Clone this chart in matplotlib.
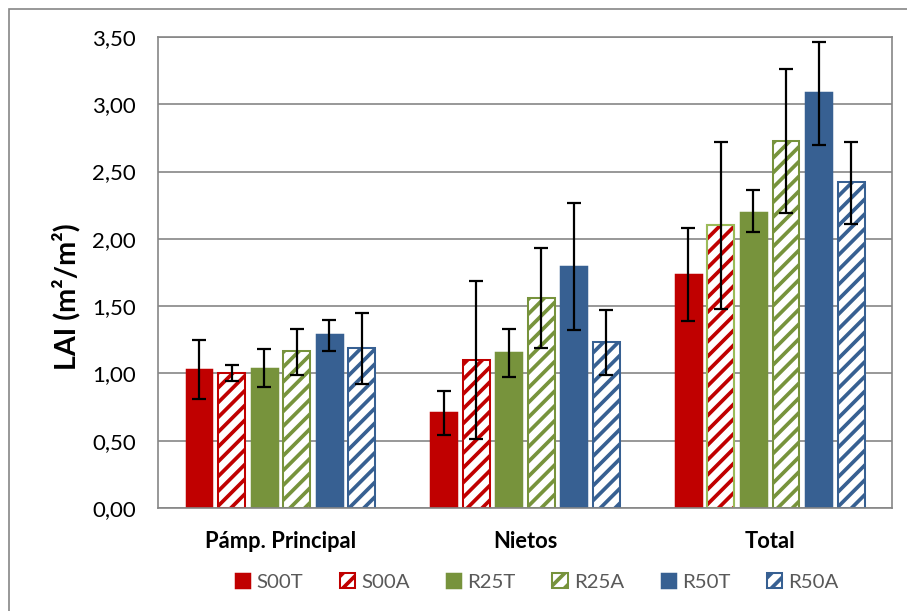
import numpy as np
import matplotlib
matplotlib.use("Agg")
import matplotlib.pyplot as plt
from matplotlib.patches import Rectangle

plt.rcParams['font.family'] = ['Lato', 'DejaVu Sans']
plt.rcParams['hatch.linewidth'] = 2.0

DPI = 400 / 3.0

categories = ['Pámp. Principal', 'Nietos', 'Total']
series = ['S00T', 'S00A', 'R25T', 'R25A', 'R50T', 'R50A']

# bar heights per series (one value per category)
s00t = [1.03, 0.71, 1.74]
s00a = [1.00, 1.10, 2.10]
r25t = [1.04, 1.16, 2.20]
r25a = [1.17, 1.56, 2.73]
r50t = [1.29, 1.80, 3.09]
r50a = [1.19, 1.23, 2.42]

# error bar upper / lower ends
s00t_hi = [1.25, 0.87, 2.08]
s00t_lo = [0.81, 0.54, 1.39]
s00a_hi = [1.065, 1.69, 2.72]
s00a_lo = [0.94, 0.51, 1.48]
r25t_hi = [1.18, 1.33, 2.36]
r25t_lo = [0.90, 0.97, 2.05]
r25a_hi = [1.33, 1.93, 3.26]
r25a_lo = [0.99, 1.19, 2.19]
r50t_hi = [1.40, 2.27, 3.46]
r50t_lo = [1.17, 1.32, 2.70]
r50a_hi = [1.45, 1.47, 2.72]
r50a_lo = [0.92, 0.99, 2.11]

values = [s00t, s00a, r25t, r25a, r50t, r50a]
highs = [s00t_hi, s00a_hi, r25t_hi, r25a_hi, r50t_hi, r50a_hi]
lows = [s00t_lo, s00a_lo, r25t_lo, r25a_lo, r50t_lo, r50a_lo]

red = '#C00000'
green = '#77933C'
blue = '#376092'
colors = [red, red, green, green, blue, blue]
hatched = [False, True, False, True, False, True]

fig = plt.figure(figsize=(907 / DPI, 611 / DPI), dpi=DPI)
ax = fig.add_axes([0.1742, 0.1686, 0.8093, 0.7708])

x = np.arange(len(categories))
slot = 0.133
width = 0.11
grid_c = '#868686'

for i, (name, vals) in enumerate(zip(series, values)):
    pos = x + (i - 2.5) * slot
    v = np.array(vals)
    yerr = [v - np.array(lows[i]), np.array(highs[i]) - v]
    if hatched[i]:
        ax.bar(pos, v, width, color='white', edgecolor=colors[i],
               hatch='///', linewidth=1.1, label=name, zorder=2)
    else:
        ax.bar(pos, v, width, color=colors[i], edgecolor=colors[i],
               linewidth=0.8, label=name, zorder=2)
    # the Total S00A bar has an olive outline in the original
    if name == 'S00A':
        ax.bar(pos[2], v[2], width, fill=False, edgecolor='#9BBB59',
               linewidth=1.1, zorder=2.5)
    ax.errorbar(pos, v, yerr=yerr, fmt='none', ecolor='black',
                elinewidth=1.2, capsize=3.8, capthick=1.2, zorder=3)

ax.set_ylim(0, 3.5)
ax.set_xlim(-0.5, 2.5)
yt = np.arange(0, 3.51, 0.5)
ax.set_yticks(yt)
ax.set_yticklabels([f'{t:.2f}'.replace('.', ',') for t in yt], fontsize=12)
ax.set_xticks(x)
ax.set_xticklabels(categories, fontsize=11.8, fontweight='bold')
ax.tick_params(axis='both', length=0)
ax.tick_params(axis='x', pad=12.5)
ax.tick_params(axis='y', pad=12)
ax.yaxis.grid(True, color=grid_c, linewidth=0.9, zorder=0)
ax.set_axisbelow(True)
for s in ax.spines.values():
    s.set_color(grid_c)
    s.set_linewidth(0.9)

ax.set_ylabel('LAI (m²/m²)', fontsize=15.5, fontweight='bold')
ax.yaxis.set_label_coords(-0.106, 0.449)

leg = ax.legend(loc='upper center', bbox_to_anchor=(0.516, -0.1), ncol=6,
                frameon=False, fontsize=11, handlelength=0.75, handleheight=0.75,
                handletextpad=0.3, columnspacing=1.8)
for t in leg.get_texts():
    t.set_color('#595959')

# outer chart frame: only its left and top edges fall inside the picture
fig.patches.append(Rectangle((9 / 907, -0.05), 1.0, 1 - 9 / 611 + 0.05,
                             transform=fig.transFigure, fill=False,
                             edgecolor='#868686', linewidth=0.9))

fig.savefig('out.png', dpi=DPI)
